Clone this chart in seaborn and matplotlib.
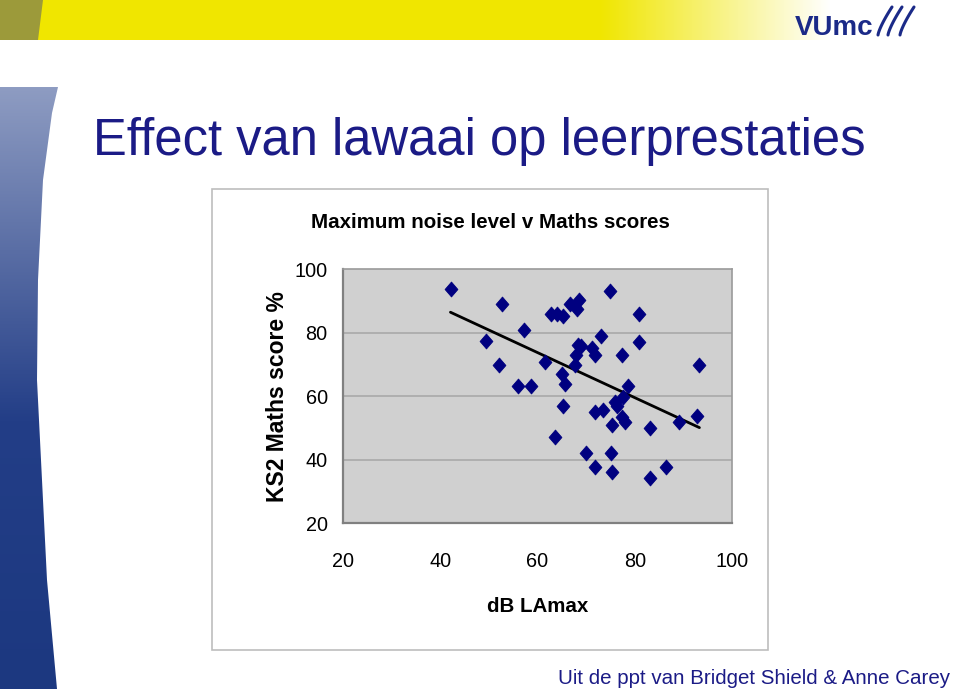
import numpy as np
import pandas as pd
import matplotlib
matplotlib.use("Agg")
import matplotlib.pyplot as plt
import seaborn as sns
from matplotlib.patches import Rectangle, Polygon
from matplotlib.path import Path
from matplotlib import font_manager as fm

# ---------------- data ----------------
noise_db = [42.2, 49.5, 52.7, 52.1, 57.2, 56.0, 58.6, 61.5, 62.8, 64.0,
            65.3, 66.7, 68.5, 68.1, 65.0, 65.7, 68.3, 68.9, 67.9, 67.7,
            71.2, 71.8, 73.1, 75.0, 77.4, 80.9, 80.9, 93.2, 78.6, 65.3,
            63.7, 69.9, 71.8, 73.5, 75.9, 76.3, 77.6, 75.4, 77.4, 78.0,
            83.1, 89.0, 92.9, 75.1, 71.9, 75.4, 83.1, 86.4]
maths_score = [93.7, 77.2, 89.0, 69.8, 80.8, 63.2, 63.2, 70.9, 85.8, 85.8,
               85.2, 89.0, 90.4, 87.4, 67.1, 63.7, 76.1, 75.8, 73.1, 69.8,
               75.0, 72.9, 79.0, 93.2, 72.9, 85.8, 77.1, 69.8, 63.2, 56.9,
               47.1, 42.2, 55.0, 55.6, 58.3, 56.9, 59.8, 50.8, 53.3, 52.0,
               50.1, 52.0, 53.9, 42.2, 37.8, 36.0, 34.2, 37.8]
trend_db = [42.1, 93.3]
trend_score = [86.4, 50.1]
x_ticks = [20, 40, 60, 80, 100]
y_ticks = [20, 40, 60, 80, 100]

slide_title = "Effect van lawaai op leerprestaties"
chart_title = "Maximum noise level v Maths scores"
x_label = "dB LAmax"
y_label = "KS2 Maths score %"
footer = "Uit de ppt van Bridget Shield & Anne Carey"

df = pd.DataFrame({"db": noise_db, "score": maths_score})
trend = pd.DataFrame({"db": trend_db, "score": trend_score})

# ---------------- style ----------------
sns.set_theme(style="white")
plt.rcParams["font.family"] = ["Liberation Sans", "DejaVu Sans"]
names = {f.name for f in fm.fontManager.ttflist}
has_narrow = "Liberation Sans Narrow" in names
narrow = ["Liberation Sans Narrow", "Liberation Sans", "DejaVu Sans"] if has_narrow else ["Liberation Sans", "DejaVu Sans"]
nscale = 1.0 if has_narrow else 0.82

NAVY = "#1B1B86"

fig = plt.figure(figsize=(9.6, 6.89), dpi=100)
fig.patch.set_facecolor("white")

# background layer in pixel coordinates
bg = fig.add_axes([0, 0, 1, 1])
bg.set_xlim(0, 960)
bg.set_ylim(689, 0)
bg.axis("off")

# top banner: yellow fading to white
xs = np.arange(960)
yellow = np.array([240, 230, 0]) / 255.0
white = np.array([1.0, 1.0, 1.0])
t = np.clip((xs - 600) / 230.0, 0, 1)[:, None]
row = yellow * (1 - t) + white * t
banner = np.repeat(row[None, :, :], 2, axis=0)
bg.imshow(banner, extent=[0, 960, 40, 0], aspect="auto", zorder=1)
bg.add_patch(Polygon([[0, 0], [43, 0], [38, 40], [0, 40]], closed=True,
                     facecolor="#9C9A3A", edgecolor="none", zorder=2))

# VUmc logo
bg.text(795, 35, "VUmc", color="#1B2A88", fontsize=20, fontweight="bold",
        ha="left", va="baseline", zorder=3)
for dx in [0, 10, 22]:
    tt = np.linspace(0, 1, 20)
    bg.plot(878 + dx + 14 * tt ** 1.3, 35 - 28 * tt, color="#1B2A88",
            lw=2.2, zorder=3, solid_capstyle="round")

# left blue bar with curved edge
edge_y = np.array([87, 113, 180, 280, 380, 480, 580, 689])
edge_x = np.array([58, 52, 43, 38, 37, 42, 47, 57])
verts = [(0, 87)] + list(zip(edge_x, edge_y)) + [(0, 689), (0, 87)]
clip_poly = Polygon(verts, closed=True, transform=bg.transData, facecolor="none", edgecolor="none")
bg.add_patch(clip_poly)
ys = np.linspace(87, 689, 300)
stops_y = [87, 250, 420, 689]
stops_c = np.array([[142, 156, 194], [90, 110, 165], [35, 62, 135], [28, 56, 128]]) / 255.0
col = np.stack([np.interp(ys, stops_y, stops_c[:, i]) for i in range(3)], axis=1)
grad = np.repeat(col[:, None, :], 2, axis=1)
im = bg.imshow(grad, extent=[0, 60, 689, 87], aspect="auto", zorder=1)
im.set_clip_path(clip_poly)
bg.set_xlim(0, 960)
bg.set_ylim(689, 0)

# slide title
bg.text(93, 155, slide_title, color=NAVY, fontsize=36.5, ha="left", va="baseline", zorder=3)

# chart frame
bg.add_patch(Rectangle((212, 189), 556, 461, facecolor="white", edgecolor="#BDBDBD",
                       lw=1.2, zorder=2))
bg.text(490, 228, chart_title, fontsize=18 * nscale, fontweight="bold", family=narrow,
        ha="center", va="baseline", color="black", zorder=3)
bg.text(277, 397, y_label, fontsize=16.5, fontweight="bold", rotation=90,
        ha="center", va="center", color="black", zorder=3)
bg.text(538, 612, x_label, fontsize=18 * nscale, fontweight="bold", family=narrow,
        ha="center", va="baseline", color="black", zorder=3)

# footer
bg.text(558, 684, footer, color=NAVY, fontsize=14.8, ha="left", va="baseline", zorder=3)

# ---------------- the plot ----------------
ax = fig.add_axes([343 / 960, 1 - 523.3 / 689, (732 - 343) / 960, (523.3 - 269) / 689])
ax.set_facecolor("#D0D0D0")
ax.set_xlim(20, 100)
ax.set_ylim(20, 100)
ax.set_xticks(x_ticks)
ax.set_yticks(y_ticks)
for yv in y_ticks[1:-1]:
    ax.axhline(yv, color="#A9A9A9", lw=1.2, zorder=1)

diamond = Path([(0, 1), (0.86, 0), (0, -1), (-0.86, 0), (0, 1)],
               [Path.MOVETO, Path.LINETO, Path.LINETO, Path.LINETO, Path.CLOSEPOLY])
sns.lineplot(data=trend, x="db", y="score", color="black", lw=2, ax=ax, zorder=3)
sns.scatterplot(data=df, x="db", y="score", marker=diamond, s=115, color="#000080",
                edgecolor="#000080", linewidth=0.6, ax=ax, zorder=4)

ax.set_xlabel("")
ax.set_ylabel("")
for s in ["left", "bottom"]:
    ax.spines[s].set_color("#808080")
    ax.spines[s].set_linewidth(1.6)
for s in ["top", "right"]:
    ax.spines[s].set_color("#9A9A9A")
    ax.spines[s].set_linewidth(1.2)
    ax.spines[s].set_visible(True)
ax.tick_params(axis="both", which="major", direction="out", length=4, width=1,
               color="#808080", labelcolor="black")
ax.tick_params(axis="x", pad=17)
ax.tick_params(axis="y", pad=7)
for lab in ax.get_xticklabels() + ax.get_yticklabels():
    lab.set_family(narrow)
    lab.set_fontsize(17.5 * nscale)

fig.savefig("out.png", dpi=100, facecolor="white")
